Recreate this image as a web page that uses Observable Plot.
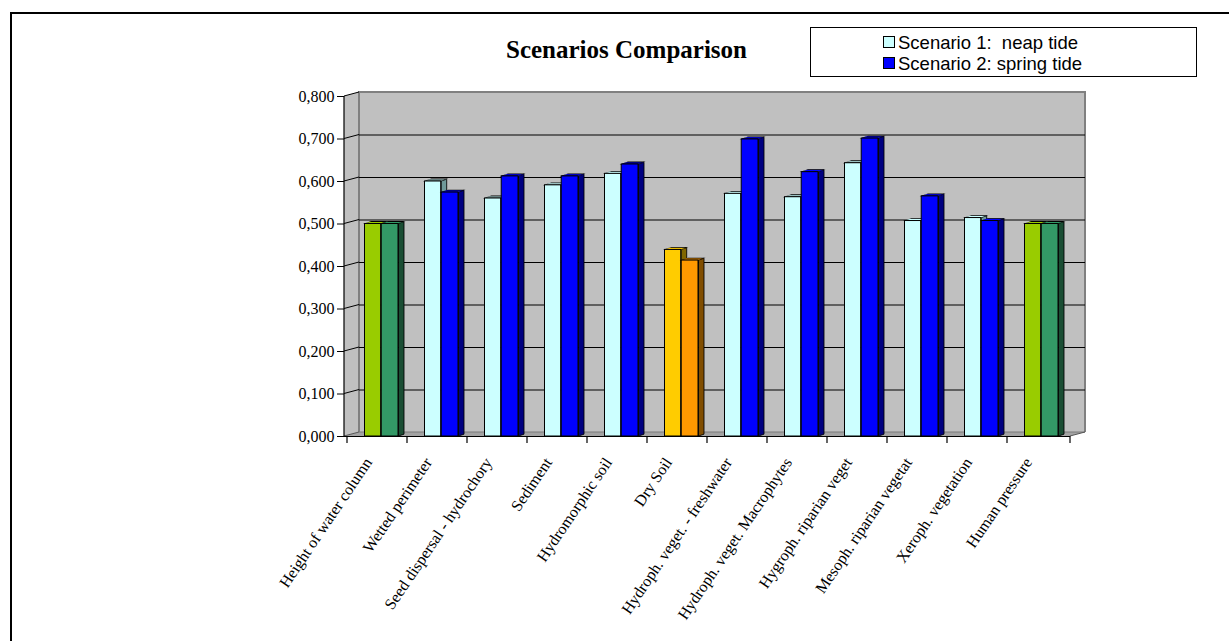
<!DOCTYPE html>
<html>
<head>
<meta charset="utf-8">
<script src="https://cdn.jsdelivr.net/npm/d3@7"></script>
<script src="https://cdn.jsdelivr.net/npm/@observablehq/plot@0.6"></script>
<style>
  html, body { margin: 0; padding: 0; background: #fff; width: 1229px; height: 641px; overflow: hidden; }
  #chart { position: relative; width: 1229px; height: 641px; overflow: hidden; }
  #frame { position: absolute; left: 10px; top: 12px; width: 1240px; height: 700px; box-sizing: border-box;
           border-left: 2px solid #000; border-top: 2px solid #000; }
  #plot { position: absolute; left: 0; top: 0; }
  #title { position: absolute; left: 0; width: 1253px; top: 37px; text-align: center;
           font: bold 25px/25px "Liberation Serif", "Times New Roman", serif; color: #000; }
  #legend { position: absolute; left: 810px; top: 27px; width: 387px; height: 50px; box-sizing: border-box;
            border: 1px solid #000; background: #fff; font: 18.5px/21px "Liberation Sans", Arial, sans-serif; color: #000; }
  #legend .sw { position: absolute; left: 72px; width: 10px; height: 10px; border: 1px solid #000; }
  #legend .lbl { position: absolute; left: 87px; height: 21px; white-space: pre; }
  /* 3-D faces: the side face leans back to the right, the top face leans back upward */
  rect[aria-label="side face"] { transform-box: fill-box; transform-origin: left center; transform: skewY(-18.435deg); }
  rect[aria-label="top face"] { transform-box: fill-box; transform-origin: center bottom; transform: skewX(-71.565deg); }
</style>
</head>
<body>
<div id="chart">
  <div id="frame"></div>
  <div id="plot"></div>
  <div id="title"></div>
  <div id="legend"></div>
</div>
<script>
// ---- data ----
const categories = [
  "Height of water column",
  "Wetted perimeter",
  "Seed dispersal - hydrochory",
  "Sediment",
  "Hydromorphic soil",
  "Dry Soil",
  "Hydroph. veget. - freshwater",
  "Hydroph. veget. Macrophytes",
  "Hygroph. riparian veget",
  "Mesoph. riparian vegetat",
  "Xeroph. vegetation",
  "Human pressure"
];
const seriesNames = ["Scenario 1:  neap tide", "Scenario 2: spring tide"];
const scenario1 = [0.500, 0.600, 0.560, 0.591, 0.618, 0.439, 0.571, 0.563, 0.643, 0.507, 0.514, 0.500];
const scenario2 = [0.500, 0.574, 0.612, 0.612, 0.640, 0.414, 0.699, 0.622, 0.701, 0.565, 0.507, 0.500];
const yTicks = [0, 0.1, 0.2, 0.3, 0.4, 0.5, 0.6, 0.7, 0.8];
const chartTitle = "Scenarios Comparison";

// ---- styling ----
const palette = {
  default: {front: ["#ccffff", "#0000ff"], side: ["#6f9999", "#000080"]},
  "Height of water column": {front: ["#99cc00", "#339966"], side: ["#4d6600", "#1a4d33"]},
  "Dry Soil": {front: ["#ffcc00", "#ff9900"], side: ["#806600", "#804d00"]},
  "Human pressure": {front: ["#99cc00", "#339966"], side: ["#4d6600", "#1a4d33"]}
};
const styleOf = d => palette[d.category] ?? palette.default;
// horizontal placement of each series inside a category band (px insets) and the 3-D depth
const slots = [
  {left: 17.5, right: 26.3, sideLeft: 34.2, sideRight: 20.3},
  {left: 34.2, right: 9.0, sideLeft: 51.5, sideRight: 3.0}
];
const barRise = 2;              // height of the top face
const wallDX = 15, wallDY = -4; // depth of the back wall

const rows = categories.flatMap((category, i) => [
  {category, series: 0, value: scenario1[i]},
  {category, series: 1, value: scenario2[i]}
]);

// back wall, left wall and floor of the 3-D box
function box(index, scales, values, dims) {
  const y = scales.y;
  const x0 = dims.marginLeft, x1 = dims.width - dims.marginRight;
  const yT = y(yTicks[yTicks.length - 1]), yB = y(0);
  const g = d3.create("svg:g");
  g.append("rect").attr("x", x0 + wallDX).attr("y", yT + wallDY)
    .attr("width", x1 - x0).attr("height", yB - yT).attr("fill", "#c0c0c0");
  g.append("path").attr("fill", "#c0c0c0")
    .attr("d", `M${x0},${yT}L${x0 + wallDX},${yT + wallDY}L${x0 + wallDX},${yB + wallDY}L${x0},${yB}Z`);
  g.append("path").attr("fill", "#a3a3a3")
    .attr("d", `M${x0},${yB}L${x0 + wallDX},${yB + wallDY}L${x1 + wallDX},${yB + wallDY}L${x1},${yB}Z`);
  g.append("path").attr("fill", "none").attr("stroke", "#808080").attr("stroke-width", 2)
    .attr("d", `M${x0 + wallDX},${yB + wallDY}V${yT + wallDY}H${x1 + wallDX}V${yB + wallDY}`);
  g.append("path").attr("fill", "none").attr("stroke", "#7a7a7a").attr("stroke-width", 1)
    .attr("d", `M${x0 + wallDX},${yB + wallDY}H${x1 + wallDX}`);
  // tick lines running across the left wall
  for (const v of yTicks) {
    g.append("line").attr("x1", x0).attr("y1", y(v)).attr("x2", x0 + wallDX).attr("y2", y(v) + wallDY)
      .attr("stroke", v === 0 ? "#555" : "#000").attr("stroke-width", 1);
  }
  g.append("line").attr("x1", x1).attr("y1", yB).attr("x2", x1 + wallDX).attr("y2", yB + wallDY)
    .attr("stroke", "#555");
  return g.node();
}

// front axis lines and category boundary ticks
function frontAxes(index, scales, values, dims) {
  const {x, y} = scales;
  const x0 = dims.marginLeft, x1 = dims.width - dims.marginRight;
  const yT = y(yTicks[yTicks.length - 1]), yB = y(0);
  const g = d3.create("svg:g").attr("stroke", "#000").attr("stroke-width", 1.2);
  g.append("line").attr("x1", x0).attr("x2", x0).attr("y1", yT).attr("y2", yB);
  const bounds = categories.map(c => x(c)).concat([x1]);
  for (const bx of bounds) g.append("line").attr("x1", bx).attr("x2", bx).attr("y1", yB).attr("y2", yB + 7);
  return g.node();
}

const barMarks = [0, 1].flatMap(s => {
  const data = rows.filter(d => d.series === s);
  const slot = slots[s];
  return [
    Plot.barY(data, {
      x: "category", y: "value", fill: d => styleOf(d).side[s], stroke: "#000", strokeWidth: 0.8,
      insetLeft: slot.sideLeft, insetRight: slot.sideRight, ariaLabel: () => "side face"
    }),
    Plot.barY(data, {
      x: "category", y1: "value", y2: "value", fill: d => styleOf(d).front[s], stroke: "#000", strokeWidth: 0.8,
      insetLeft: slot.left, insetRight: slot.right, insetTop: -barRise, ariaLabel: () => "top face"
    }),
    Plot.barY(data, {
      x: "category", y: "value", fill: d => styleOf(d).front[s], stroke: "#000", strokeWidth: 1,
      insetLeft: slot.left, insetRight: slot.right
    })
  ];
});

const chart = Plot.plot({
  width: 1229,
  height: 641,
  marginLeft: 344,
  marginRight: 159,
  marginTop: 96,
  marginBottom: 205,
  style: {background: "transparent", overflow: "visible", color: "#000"},
  x: {domain: categories, padding: 0, label: null},
  y: {domain: [0, 0.8], label: null},
  color: {type: "identity"},
  marks: [
    box,
    Plot.gridY(yTicks.slice(1, -1), {dx: wallDX, dy: wallDY, stroke: "#000", strokeOpacity: 1, strokeWidth: 1}),
    ...barMarks,
    Plot.ruleY([0], {stroke: "#000", strokeWidth: 1.2}),
    frontAxes,
    Plot.axisY({
      ticks: yTicks, tickFormat: d => d.toFixed(3).replace(".", ","), tickSize: 7, tickPadding: 3,
      fontSize: 16, fontFamily: "Liberation Serif", label: null, stroke: "#000"
    }),
    Plot.axisX({
      tickSize: 0, tickPadding: 23, tickRotate: -56, textAnchor: "end", dx: -9,
      fontSize: 16, fontFamily: "Liberation Serif", label: null
    })
  ]
});
document.getElementById("plot").append(chart);

// title and legend
document.getElementById("title").textContent = chartTitle;
const legend = d3.select("#legend");
seriesNames.forEach((name, s) => {
  legend.append("div").attr("class", "sw")
    .style("top", `${8 + 21 * s}px`).style("background", palette.default.front[s]);
  legend.append("div").attr("class", "lbl")
    .style("top", `${4 + 21 * s}px`).text(name);
});
</script>
</body>
</html>
